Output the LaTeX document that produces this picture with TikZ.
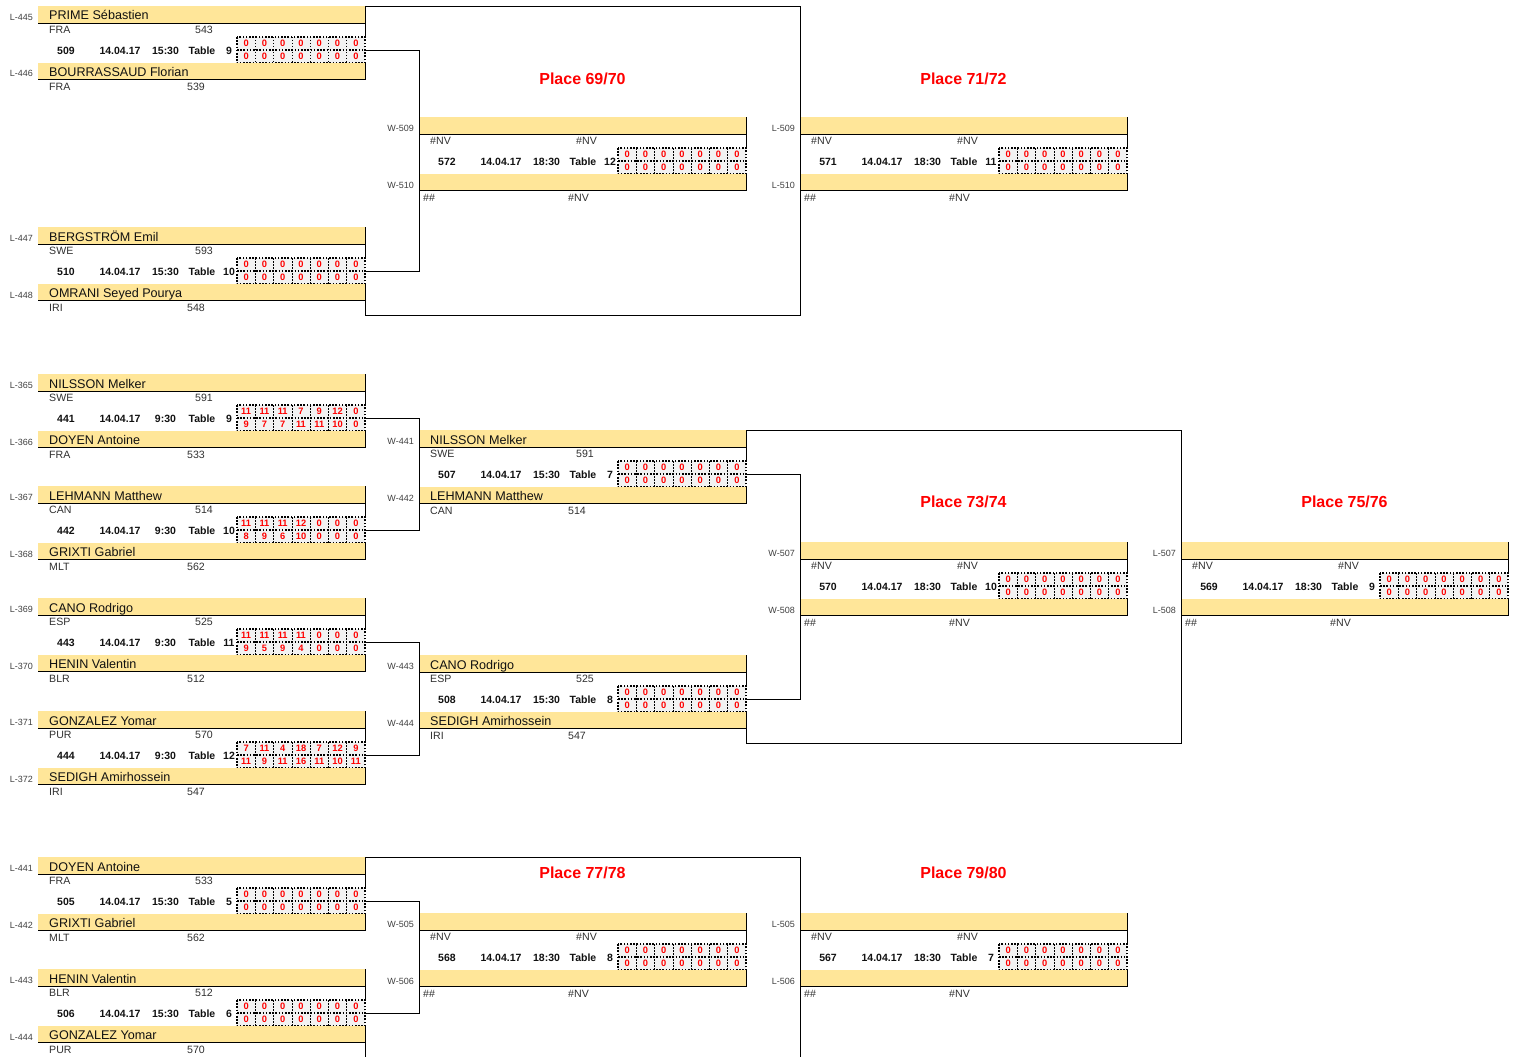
\documentclass[tikz,border=0pt]{standalone}
\usepackage{fontspec}
\setmainfont{Liberation Sans}
\definecolor{bandc}{HTML}{FFE699}
\definecolor{labc}{HTML}{404040}
\definecolor{ctyc}{HTML}{303030}
\definecolor{namec}{HTML}{111111}
\definecolor{scorebg}{HTML}{F2F2F2}
\definecolor{redc}{HTML}{FF0000}
\tikzset{
  lab/.style={anchor=base east, font=\fontsize{9}{10}\selectfont, text=labc, inner sep=0pt},
  pname/.style={anchor=base west, font=\fontsize{12.6}{14}\selectfont, text=namec, inner sep=0pt},
  cty/.style={anchor=base west, font=\fontsize{10.6}{12}\selectfont, text=ctyc, inner sep=0pt},
  info/.style={anchor=base, font=\bfseries\fontsize{10.5}{12}\selectfont, text=namec, inner sep=0pt},
  score/.style={font=\bfseries\fontsize{9.3}{10}\selectfont, text=redc, inner sep=0pt},
  place/.style={font=\bfseries\fontsize{16}{18}\selectfont, text=redc, inner sep=0pt},
  dotout/.style={line width=1.1pt, dash pattern=on 1.6pt off 1.6pt},
  dotin/.style={line width=0.6pt, dash pattern=on 1.5pt off 1.5pt},
  lnk/.style={line width=0.9pt},
}
\newcommand\mtop[7]{%
  \fill[bandc] (#2,#3) rectangle (#2+327,#3+17.5);
  \draw[lnk] (#2,#3+17.5) -- (#2+327,#3+17.5);
  \node[lab] (#1-l1) at (#2-5,#3+14.5) {#4};
  \node[pname] (#1-p1) at (#2+11,#3+14) {#5};
  \node[cty] (#1-c1) at (#2+11,#3+27.5) {#6};
  \node[cty] (#1-r1) at (#2+157,#3+27.5) {#7};
  \draw[lnk] (#2+327,#3) -- (#2+327,#3+31);
}
\newcommand\mbot[7]{%
  \fill[bandc] (#2,#3+57) rectangle (#2+327,#3+73.5);
  \draw[lnk] (#2,#3+73.5) -- (#2+327,#3+73.5);
  \node[lab] (#1-l2) at (#2-5,#3+71) {#4};
  \node[pname] (#1-p2) at (#2+11,#3+70.5) {#5};
  \node[cty] (#1-c2) at (#2+11,#3+84.5) {#6};
  \node[cty] (#1-r2) at (#2+149,#3+84.5) {#7};
  \draw[lnk] (#2+327,#3+57) -- (#2+327,#3+73.5);
}
\newcommand\mmid[9]{%
  \node[info] (#1-n) at (#2+28,#3+48.5) {#4};
  \node[info] (#1-d) at (#2+82,#3+48.5) {#5};
  \node[info] (#1-t) at (#2+127.5,#3+48.5) {#6};
  \node[info] (#1-tb) at (#2+164,#3+48.5) {Table};
  \node[info] (#1-tn) at (#2+191,#3+48.5) {#7};
  \fill[scorebg] (#2+199,#3+31) rectangle (#2+327,#3+57);
  \foreach \s [count=\i] in {#8} {\node[score] (#1-a\i) at ({#2+199+18.2857*(\i-0.5)},#3+37.7) {\s};}
  \foreach \s [count=\i] in {#9} {\node[score] (#1-b\i) at ({#2+199+18.2857*(\i-0.5)},#3+50.7) {\s};}
  \foreach \i in {1,...,6} {\draw[dotin] ({#2+199+18.2857*\i},#3+31) -- ({#2+199+18.2857*\i},#3+57);}
  \draw[dotout] (#2+199,#3+44) -- (#2+327,#3+44);
  \draw[dotout] (#2+199,#3+31) rectangle (#2+327,#3+57);
  \coordinate (#1-out) at (#2+327,#3+44);
}
\begin{document}
\begin{tikzpicture}[x=1pt,y=-1pt]
\useasboundingbox (0,0) rectangle (1515,1057);
% ---------------- Section 1
\mtop{m509}{38}{6}{L-445}{PRIME Sébastien}{FRA}{543}
\mmid{m509}{38}{6}{509}{14.04.17}{15:30}{9}{0,0,0,0,0,0,0}{0,0,0,0,0,0,0}
\mbot{m509}{38}{6}{L-446}{BOURRASSAUD Florian}{FRA}{539}
\mtop{m510}{38}{227}{L-447}{BERGSTRÖM Emil}{SWE}{593}
\mmid{m510}{38}{227}{510}{14.04.17}{15:30}{10}{0,0,0,0,0,0,0}{0,0,0,0,0,0,0}
\mbot{m510}{38}{227}{L-448}{OMRANI Seyed Pourya}{IRI}{548}
\mtop{m572}{419}{117}{W-509}{}{\#NV}{\#NV}
\mmid{m572}{419}{117}{572}{14.04.17}{18:30}{12}{0,0,0,0,0,0,0}{0,0,0,0,0,0,0}
\mbot{m572}{419}{117}{W-510}{}{\kern-7pt\#\#}{\#NV}
\mtop{m571}{800}{117}{L-509}{}{\#NV}{\#NV}
\mmid{m571}{800}{117}{571}{14.04.17}{18:30}{11}{0,0,0,0,0,0,0}{0,0,0,0,0,0,0}
\mbot{m571}{800}{117}{L-510}{}{\kern-7pt\#\#}{\#NV}
\draw[lnk] (m509-out) -- (419,50) |- (m510-out);
\coordinate (f1a) at (365,300.5);
\coordinate (f1b) at (365,315);
\coordinate (f1c) at (800,315);
\coordinate (f1d) at (800,6);
\coordinate (f1e) at (365,6);
\draw[lnk] (f1a) -- (f1b) -- (f1c) -- (f1d) -- (f1e);
\node[place] (p69) at (582.5,79) {Place 69/70};
\node[place] (p71) at (963.5,79) {Place 71/72};
% ---------------- Section 2
\mtop{m441}{38}{374}{L-365}{NILSSON Melker}{SWE}{591}
\mmid{m441}{38}{374}{441}{14.04.17}{9:30}{9}{11,11,11,7,9,12,0}{9,7,7,11,11,10,0}
\mbot{m441}{38}{374}{L-366}{DOYEN Antoine}{FRA}{533}
\mtop{m442}{38}{486}{L-367}{LEHMANN Matthew}{CAN}{514}
\mmid{m442}{38}{486}{442}{14.04.17}{9:30}{10}{11,11,11,12,0,0,0}{8,9,6,10,0,0,0}
\mbot{m442}{38}{486}{L-368}{GRIXTI Gabriel}{MLT}{562}
\mtop{m443}{38}{598}{L-369}{CANO Rodrigo}{ESP}{525}
\mmid{m443}{38}{598}{443}{14.04.17}{9:30}{11}{11,11,11,11,0,0,0}{9,5,9,4,0,0,0}
\mbot{m443}{38}{598}{L-370}{HENIN Valentin}{BLR}{512}
\mtop{m444}{38}{711}{L-371}{GONZALEZ Yomar}{PUR}{570}
\mmid{m444}{38}{711}{444}{14.04.17}{9:30}{12}{7,11,4,18,7,12,9}{11,9,11,16,11,10,11}
\mbot{m444}{38}{711}{L-372}{SEDIGH Amirhossein}{IRI}{547}
\mtop{m507}{419}{430}{W-441}{NILSSON Melker}{SWE}{591}
\mmid{m507}{419}{430}{507}{14.04.17}{15:30}{7}{0,0,0,0,0,0,0}{0,0,0,0,0,0,0}
\mbot{m507}{419}{430}{W-442}{LEHMANN Matthew}{CAN}{514}
\mtop{m508}{419}{655}{W-443}{CANO Rodrigo}{ESP}{525}
\mmid{m508}{419}{655}{508}{14.04.17}{15:30}{8}{0,0,0,0,0,0,0}{0,0,0,0,0,0,0}
\mbot{m508}{419}{655}{W-444}{SEDIGH Amirhossein}{IRI}{547}
\mtop{m570}{800}{542}{W-507}{}{\#NV}{\#NV}
\mmid{m570}{800}{542}{570}{14.04.17}{18:30}{10}{0,0,0,0,0,0,0}{0,0,0,0,0,0,0}
\mbot{m570}{800}{542}{W-508}{}{\kern-7pt\#\#}{\#NV}
\mtop{m569}{1181}{542}{L-507}{}{\#NV}{\#NV}
\mmid{m569}{1181}{542}{569}{14.04.17}{18:30}{9}{0,0,0,0,0,0,0}{0,0,0,0,0,0,0}
\mbot{m569}{1181}{542}{L-508}{}{\kern-7pt\#\#}{\#NV}
\draw[lnk] (m441-out) -- (419,418) |- (m442-out);
\draw[lnk] (m443-out) -- (419,642) |- (m444-out);
\draw[lnk] (m507-out) -- (800,474) |- (m508-out);
\coordinate (f2a) at (746,728.5);
\coordinate (f2b) at (746,743);
\coordinate (f2c) at (1181,743);
\coordinate (f2d) at (1181,430);
\coordinate (f2e) at (746,430);
\draw[lnk] (f2a) -- (f2b) -- (f2c) -- (f2d) -- (f2e);
\node[place] (p73) at (963.5,502) {Place 73/74};
\node[place] (p75) at (1344.5,502) {Place 75/76};
% ---------------- Section 3
\mtop{m505}{38}{857}{L-441}{DOYEN Antoine}{FRA}{533}
\mmid{m505}{38}{857}{505}{14.04.17}{15:30}{5}{0,0,0,0,0,0,0}{0,0,0,0,0,0,0}
\mbot{m505}{38}{857}{L-442}{GRIXTI Gabriel}{MLT}{562}
\mtop{m506}{38}{969}{L-443}{HENIN Valentin}{BLR}{512}
\mmid{m506}{38}{969}{506}{14.04.17}{15:30}{6}{0,0,0,0,0,0,0}{0,0,0,0,0,0,0}
\mbot{m506}{38}{969}{L-444}{GONZALEZ Yomar}{PUR}{570}
\mtop{m568}{419}{913}{W-505}{}{\#NV}{\#NV}
\mmid{m568}{419}{913}{568}{14.04.17}{18:30}{8}{0,0,0,0,0,0,0}{0,0,0,0,0,0,0}
\mbot{m568}{419}{913}{W-506}{}{\kern-7pt\#\#}{\#NV}
\mtop{m567}{800}{913}{L-505}{}{\#NV}{\#NV}
\mmid{m567}{800}{913}{567}{14.04.17}{18:30}{7}{0,0,0,0,0,0,0}{0,0,0,0,0,0,0}
\mbot{m567}{800}{913}{L-506}{}{\kern-7pt\#\#}{\#NV}
\draw[lnk] (m505-out) -- (419,901) |- (m506-out);
\coordinate (f3a) at (365,1042.5);
\coordinate (f3b) at (365,1058);
\coordinate (f3c) at (800,1058);
\coordinate (f3d) at (800,857);
\coordinate (f3e) at (365,857);
\draw[lnk] (f3a) -- (f3b);
\draw[lnk] (f3c) -- (f3d) -- (f3e);
\node[place] (p77) at (582.5,873) {Place 77/78};
\node[place] (p79) at (963.5,873) {Place 79/80};
\end{tikzpicture}
\end{document}
